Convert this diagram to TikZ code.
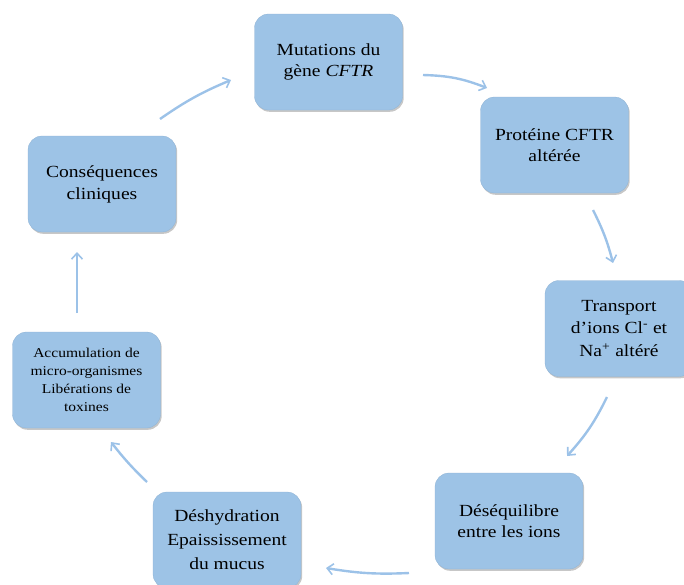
\documentclass[tikz,border=0pt]{standalone}
\usepackage{fontspec}
\setmainfont{Liberation Serif}[FakeStretch=1.15]
\usetikzlibrary{arrows.meta,shadows}
\definecolor{boxblue}{HTML}{9DC3E6}
\definecolor{arrowblue}{HTML}{9CC2E8}
\begin{document}
\begin{tikzpicture}[x=1pt,y=-1pt,
  cbox/.style={rectangle, rounded corners=14pt, fill=boxblue, draw=boxblue!92!black, line width=0.3pt,
    minimum width=148pt, minimum height=96pt, align=center, inner sep=2pt,
    drop shadow={shadow xshift=1.2pt, shadow yshift=-1.8pt, opacity=0.22, fill=black}},
  big/.style={font=\fontsize{17}{20.5}\selectfont},
  cyc/.style={draw=arrowblue, line width=2.4pt, -{Straight Barb[length=6pt,width=11pt,line width=1.6pt]}}
]
\useasboundingbox (0,0) rectangle (684,584);
\clip (0,0) rectangle (684,584);
\node[cbox,big] (mut) at (328.5,62) {Mutations du\\gène \textit{CFTR}};
\node[cbox,big] (prot) at (554.5,145) {Protéine CFTR\\altérée};
\node[cbox,font=\fontsize{17}{22.5}\selectfont] (trans) at (619,328.5) {Transport\\d’ions Cl\textsuperscript{-} et\\Na\textsuperscript{+} altéré};
\node[cbox,big] (deseq) at (509,521) {Déséquilibre\\entre les ions};
\node[cbox,font=\fontsize{17}{24}\selectfont] (desh) at (227,540) {Déshydration\\Epaississement\\du mucus};
\node[cbox,font=\fontsize{13.5}{18}\selectfont] (accu) at (86.5,380) {Accumulation de\\micro-organismes\\Libérations de\\toxines};
\node[cbox,font=\fontsize{17}{22}\selectfont] (cons) at (102,184) {Conséquences\\cliniques};
\coordinate (a1) at (423,75);  \coordinate (b1) at (487,88);
\coordinate (a2) at (593,210); \coordinate (b2) at (613,263);
\coordinate (a3) at (607,397); \coordinate (b3) at (567,456);
\coordinate (a4) at (409,573); \coordinate (b4) at (326,568);
\coordinate (a5) at (147,482); \coordinate (b5) at (111,442);
\coordinate (a6) at (77,313);  \coordinate (b6) at (77,252);
\coordinate (a7) at (160,119); \coordinate (b7) at (231,80);
\draw[cyc] (a1) to[bend left=10] (b1);
\draw[cyc] (a2) to[bend left=6] (b2);
\draw[cyc] (a3) to[bend left=8] (b3);
\draw[cyc] (a4) to[bend left=6] (b4);
\draw[cyc] (a5) to[bend left=4] (b5);
\draw[cyc] (a6) -- (b6);
\draw[cyc] (a7) to[bend left=6] (b7);
\end{tikzpicture}
\end{document}
